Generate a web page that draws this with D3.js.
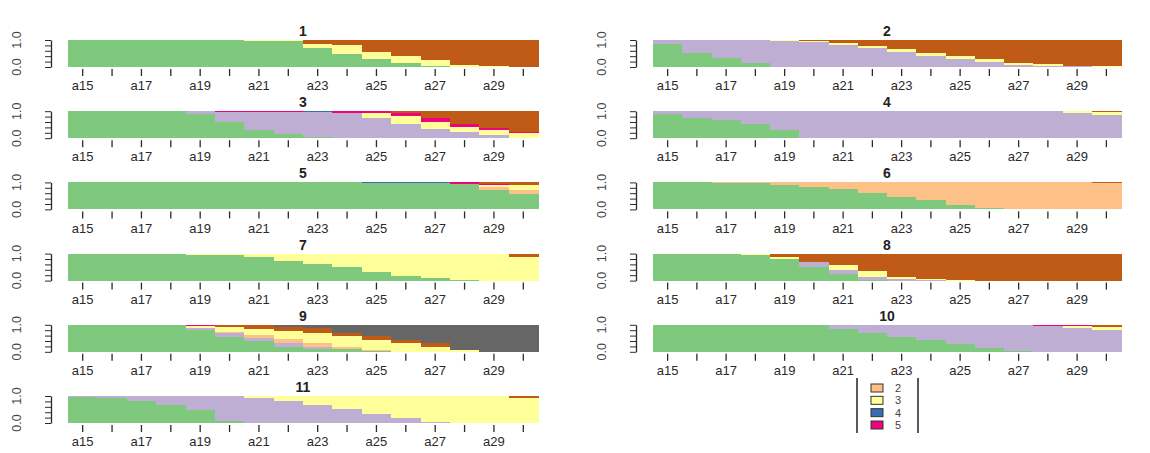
<!DOCTYPE html>
<html><head><meta charset="utf-8">
<script src="https://cdn.jsdelivr.net/npm/d3@7"></script>
<style>
body{margin:0;background:#fff;}
svg{display:block;font-family:"Liberation Sans",Arial,sans-serif;}
</style></head><body>
<svg id="c" width="1150" height="453"></svg>
<script>
const times = ["a15","a16","a17","a18","a19","a20","a21","a22","a23","a24","a25","a26","a27","a28","a29","a30"];
const states = ["0","1","2","3","4","5","6","7"];
const stateColors = ["#7FC97F","#BEAED4","#FDC086","#FFFF99","#386CB0","#F0027F","#BF5B17","#666666"];
const legendStates = ["2","3","4","5"];
const yTicks = [0,0.2,0.4,0.6,0.8,1];
const yLabels = ["0.0","1.0"];
const panelTitles = ["1","2","3","4","5","6","7","8","9","10","11"];

const panel1 = {
  "0":[1,1,1,1,0.99,0.99,0.98,0.97,0.70,0.49,0.28,0.13,0.03,0,0,0],
  "3":[0,0,0,0,0.01,0.01,0.02,0.03,0.17,0.32,0.29,0.26,0.23,0.09,0.02,0.01],
  "6":[0,0,0,0,0,0,0,0,0.13,0.19,0.43,0.61,0.74,0.91,0.98,0.99]};
const panel2 = {
  "0":[0.84,0.53,0.34,0.13,0,0,0,0,0,0,0,0,0,0,0,0],
  "1":[0.16,0.47,0.66,0.86,0.98,0.93,0.81,0.69,0.56,0.40,0.30,0.18,0.09,0.04,0.02,0.01],
  "3":[0,0,0,0,0.01,0.03,0.07,0.08,0.09,0.12,0.10,0.10,0.07,0.06,0.03,0.02],
  "6":[0,0,0,0.01,0.01,0.04,0.12,0.23,0.35,0.48,0.60,0.72,0.84,0.90,0.95,0.97]};
const panel3 = {
  "0":[1,1,1,1,0.91,0.60,0.32,0.16,0.03,0,0,0,0,0,0,0],
  "1":[0,0,0,0,0.09,0.38,0.66,0.82,0.94,0.94,0.73,0.54,0.35,0.22,0.12,0.02],
  "3":[0,0,0,0,0,0,0,0,0,0,0.19,0.28,0.25,0.19,0.19,0.16],
  "4":[0,0,0,0,0,0,0,0,0.02,0.01,0,0,0,0,0,0],
  "5":[0,0,0,0,0,0.02,0.02,0.02,0.01,0.05,0.08,0.10,0.15,0.12,0.07,0.05],
  "6":[0,0,0,0,0,0,0,0,0,0,0,0.08,0.25,0.47,0.62,0.77]};
const panel4 = {
  "0":[0.91,0.76,0.69,0.54,0.32,0,0,0,0,0,0,0,0,0,0,0],
  "1":[0.09,0.24,0.31,0.46,0.68,1,1,1,1,1,1,1,1,1,0.93,0.87],
  "3":[0,0,0,0,0,0,0,0,0,0,0,0,0,0,0.07,0.10],
  "6":[0,0,0,0,0,0,0,0,0,0,0,0,0,0,0,0.03]};
const panel5 = {
  "0":[1,1,1,1,1,1,1,1,1,1,0.97,0.97,0.97,0.93,0.72,0.56],
  "2":[0,0,0,0,0,0,0,0,0,0,0,0,0,0,0.10,0.16],
  "3":[0,0,0,0,0,0,0,0,0,0,0,0,0,0,0.08,0.17],
  "4":[0,0,0,0,0,0,0,0,0,0,0.03,0.03,0.03,0.02,0,0],
  "5":[0,0,0,0,0,0,0,0,0,0,0,0,0,0.05,0.04,0.02],
  "6":[0,0,0,0,0,0,0,0,0,0,0,0,0,0,0.06,0.09]};
const panel6 = {
  "0":[1,1,0.99,0.96,0.92,0.83,0.74,0.60,0.47,0.35,0.15,0.06,0.02,0.01,0,0],
  "2":[0,0,0.01,0.04,0.08,0.17,0.26,0.40,0.53,0.65,0.85,0.94,0.98,0.99,1,0.97],
  "6":[0,0,0,0,0,0,0,0,0,0,0,0,0,0,0,0.03]};
const panel7 = {
  "0":[1,1,1,1,0.96,0.93,0.88,0.73,0.60,0.50,0.31,0.18,0.08,0.01,0,0],
  "3":[0,0,0,0,0.04,0.07,0.12,0.27,0.40,0.50,0.69,0.82,0.92,0.99,0.97,0.86],
  "6":[0,0,0,0,0,0,0,0,0,0,0,0,0,0,0.03,0.14]};
const panel8 = {
  "0":[1,1,0.98,0.95,0.79,0.50,0.25,0.02,0,0,0,0,0,0,0,0],
  "1":[0,0,0,0,0,0.19,0.15,0.13,0.07,0.02,0,0,0,0,0,0],
  "3":[0,0,0.02,0.03,0.09,0,0.16,0.19,0.06,0.05,0.02,0,0,0,0,0],
  "6":[0,0,0,0.02,0.12,0.31,0.44,0.66,0.87,0.93,0.98,1,1,1,1,1]};
const panel9 = {
  "0":[1,1,0.99,0.98,0.79,0.56,0.41,0.19,0.12,0.09,0.02,0,0,0,0,0],
  "1":[0,0,0.01,0,0.08,0.12,0.09,0.12,0.04,0.03,0.01,0,0,0,0,0],
  "2":[0,0,0,0.02,0,0.05,0.12,0.15,0.15,0.06,0.02,0,0,0,0,0],
  "3":[0,0,0,0,0.08,0.18,0.21,0.32,0.40,0.40,0.37,0.31,0.19,0.05,0,0],
  "5":[0,0,0,0,0.03,0.02,0,0,0,0,0,0,0,0,0,0],
  "6":[0,0,0,0,0.02,0.07,0.16,0.15,0.16,0.10,0.15,0.13,0.13,0,0,0],
  "7":[0,0,0,0,0,0,0.01,0.07,0.13,0.32,0.43,0.56,0.68,0.95,1,1]};
const panel10 = {
  "0":[1,1,1,1,1,1,0.84,0.69,0.56,0.44,0.28,0.13,0.04,0.01,0,0],
  "1":[0,0,0,0,0,0,0.16,0.31,0.44,0.56,0.72,0.87,0.94,0.96,0.90,0.80],
  "3":[0,0,0,0,0,0,0,0,0,0,0,0,0,0,0.04,0.11],
  "5":[0,0,0,0,0,0,0,0,0,0,0,0,0.02,0.03,0.04,0.02],
  "6":[0,0,0,0,0,0,0,0,0,0,0,0,0,0,0.02,0.07]};
const panel11 = {
  "0":[0.98,0.91,0.81,0.68,0.49,0.08,0.01,0,0,0,0,0,0,0,0,0],
  "1":[0.02,0.09,0.19,0.32,0.51,0.92,0.90,0.81,0.68,0.53,0.32,0.19,0.05,0.01,0,0],
  "3":[0,0,0,0,0,0,0.09,0.19,0.32,0.47,0.68,0.81,0.95,0.99,1,0.91],
  "6":[0,0,0,0,0,0,0,0,0,0,0,0,0,0,0,0.09]};
const panels = [panel1,panel2,panel3,panel4,panel5,panel6,panel7,panel8,panel9,panel10,panel11];

const svg = d3.select("#c");
const color = d3.scaleOrdinal().domain(states).range(stateColors);
const colX = [[68,538],[653,1121]];
const rowTop = [40,111.2,182.4,253.6,324.8,396];
const plotH = 27;
const textCol = "#2a2a2a";

panels.forEach((p, i) => {
  const col = i % 2, row = Math.floor(i / 2);
  const [x0, x1] = colX[col];
  const top = rowTop[row], bottom = top + plotH;
  const x = d3.scaleBand().domain(times).range([x0, x1]).padding(0);
  const y = d3.scaleLinear().domain([0, 1]).range([bottom, top]);
  const rows = times.map((t, j) => {
    const o = {time: t};
    states.forEach(s => o[s] = p[s] ? p[s][j] : 0);
    return o;
  });
  const series = d3.stack().keys(states).offset(d3.stackOffsetExpand)(rows);
  const g = svg.append("g");
  g.selectAll("g.layer").data(series).join("g")
    .attr("fill", d => color(d.key))
    .selectAll("rect").data(d => d.filter(v => v[1] - v[0] > 0)).join("rect")
    .attr("x", d => x(d.data.time))
    .attr("width", x.bandwidth() + 0.5)
    .attr("y", d => y(d[1]))
    .attr("height", d => y(d[0]) - y(d[1]))
    .attr("shape-rendering", "crispEdges");

  // title
  svg.append("text").attr("x", (x0 + x1) / 2).attr("y", top - 4)
    .attr("text-anchor", "middle").attr("font-weight", "bold")
    .attr("font-size", 14).attr("fill", "#222").text(panelTitles[i]);

  // x axis
  const xa = svg.append("g").attr("transform", `translate(0,${bottom + 2})`)
    .call(d3.axisBottom(x).tickSize(7).tickPadding(5)
      .tickFormat((d, k) => k % 2 === 0 ? d : ""));
  xa.select(".domain").remove();
  xa.selectAll("line").attr("stroke", textCol).attr("stroke-width", 1.3);
  xa.selectAll("text").attr("font-size", 13).attr("fill", textCol)
    .attr("font-family", "'Liberation Sans',Arial,sans-serif");

  // y axis
  const ya = svg.append("g").attr("transform", `translate(${x0 - 17},0)`)
    .call(d3.axisLeft(y).tickValues(yTicks).tickSize(6).tickSizeOuter(0).tickFormat(() => ""));
  ya.select(".domain").attr("stroke", textCol).attr("stroke-width", 1.3);
  ya.selectAll("line").attr("stroke", textCol).attr("stroke-width", 1);
  [[0, yLabels[0]], [1, yLabels[1]]].forEach(([v, lab]) => {
    svg.append("text")
      .attr("transform", `translate(${x0 - 47},${y(v)}) rotate(-90)`)
      .attr("text-anchor", "middle").attr("font-size", 12.5).attr("fill", "#444")
      .text(lab);
  });
});

// legend (partially visible)
const lg = svg.append("g");
lg.append("line").attr("x1", 857).attr("x2", 857).attr("y1", 378).attr("y2", 433)
  .attr("stroke", "#222").attr("stroke-width", 1.5);
lg.append("line").attr("x1", 918).attr("x2", 918).attr("y1", 378).attr("y2", 433)
  .attr("stroke", "#222").attr("stroke-width", 1.5);
const ly = d3.scalePoint().domain(legendStates).range([388, 425]);
legendStates.forEach(s => {
  lg.append("rect").attr("x", 871).attr("y", ly(s) - 4).attr("width", 12).attr("height", 8)
    .attr("fill", color(s)).attr("stroke", "#333").attr("stroke-width", 1);
  lg.append("text").attr("x", 895).attr("y", ly(s)).attr("dy", "0.35em")
    .attr("font-size", 11).attr("fill", "#444").text(s);
});
</script>
</body></html>
